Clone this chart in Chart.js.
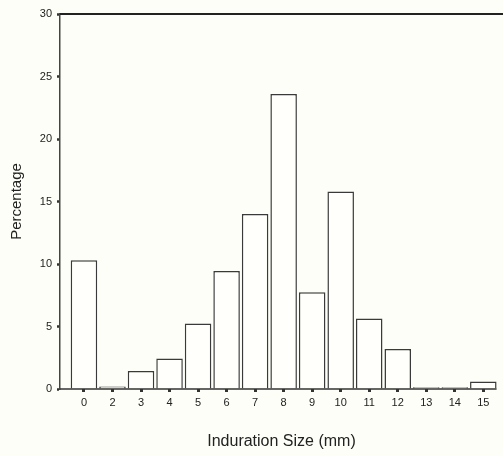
<!DOCTYPE html>
<html>
<head>
<meta charset="utf-8">
<script src="https://cdn.jsdelivr.net/npm/chart.js@4/dist/chart.umd.min.js"></script>
<style>
  html, body { margin: 0; padding: 0; background: #fefef8; }
  #wrap { width: 503px; height: 456px; }
</style>
</head>
<body>
<div id="wrap"><canvas id="barras" width="503" height="456"></canvas></div>
<script>
// categorias del eje x (tamaño de induración en mm)
var categorias = ["0", "2", "3", "4", "5", "6", "7", "8", "9", "10", "11", "12", "13", "14", "15"];
// porcentaje de cada categoría
var porcentajes = [10.3, 0.2, 1.45, 2.45, 5.25, 9.45, 14.0, 23.6, 7.75, 15.8, 5.65, 3.2, 0.15, 0.15, 0.6];
// marcas del eje y
var marcasY = [0, 5, 10, 15, 20, 25, 30];

var tinta = "#333333";

// fondo crema y líneas de marco (arriba y base)
var marco = {
  id: "marco",
  beforeDraw: function (chart) {
    var c = chart.ctx;
    c.save();
    c.fillStyle = "#fefef8";
    c.fillRect(0, 0, chart.width, chart.height);
    c.restore();
  },
  afterDatasetsDraw: function (chart) {
    var c = chart.ctx;
    var a = chart.chartArea;
    var meta = chart.getDatasetMeta(0);
    var ultima = meta.data[meta.data.length - 1];
    c.save();
    c.strokeStyle = "#222";
    c.lineWidth = 2;
    c.beginPath();
    c.moveTo(a.left, a.top);
    c.lineTo(a.right, a.top);
    c.stroke();
    c.lineWidth = 1.5;
    c.strokeStyle = tinta;
    c.beginPath();
    c.moveTo(a.left, a.bottom);
    c.lineTo(ultima.x + ultima.width / 2, a.bottom);
    c.stroke();
    c.restore();
  }
};

Chart.defaults.font.family = "'Liberation Sans', Arial, sans-serif";
Chart.defaults.color = "#222";

var datos = {
  datasets: [{
    label: "Percentage",
    data: porcentajes.map(function (v, i) { return { x: i, y: v }; }),
    backgroundColor: "#fffffb",
    borderColor: "#3a3a3a",
    borderWidth: 1.5,
    barPercentage: 0.93,
    categoryPercentage: 1
  }]
};

var opciones = {
  responsive: false,
  animation: false,
  layout: { padding: { top: 14, right: 0, left: 0, bottom: 0 } },
  plugins: { legend: { display: false }, tooltip: { enabled: false } },
  scales: {
    x: {
      type: "linear",
      offset: false,
      min: -0.84,
      max: 14.69,
      afterBuildTicks: function (scale) {
        scale.ticks = categorias.map(function (c, i) { return { value: i }; });
      },
      afterFit: function (scale) { scale.height = 67; },
      ticks: {
        autoSkip: false,
        maxRotation: 0,
        padding: 4,
        font: { size: 11 },
        color: "#222",
        callback: function (v) { return categorias[v]; }
      },
      grid: {
        offset: false,
        drawOnChartArea: false,
        drawTicks: true,
        tickLength: 3,
        tickWidth: 3,
        tickColor: tinta
      },
      border: { display: false },
      title: {
        display: true,
        text: "Induration Size (mm)",
        font: { size: 16 },
        color: "#222",
        padding: { top: 0, bottom: 5 }
      }
    },
    y: {
      min: 0,
      max: 30,
      afterBuildTicks: function (scale) {
        scale.ticks = marcasY.map(function (v) { return { value: v }; });
      },
      afterFit: function (scale) { scale.width = 60; },
      ticks: {
        padding: 5,
        font: { size: 11 },
        color: "#222"
      },
      grid: {
        drawOnChartArea: false,
        drawTicks: true,
        tickLength: 3,
        tickWidth: 2.5,
        tickColor: tinta
      },
      border: { display: true, color: "#444", width: 1.5 },
      title: {
        display: true,
        text: "Percentage",
        font: { size: 15 },
        color: "#222",
        padding: { top: 8, bottom: 0 }
      }
    }
  }
};

const ctx = document.getElementById("barras");
const barras = new Chart(ctx, {
  type: "bar",
  data: datos,
  options: opciones,
  plugins: [marco]
});
</script>
</body>
</html>
